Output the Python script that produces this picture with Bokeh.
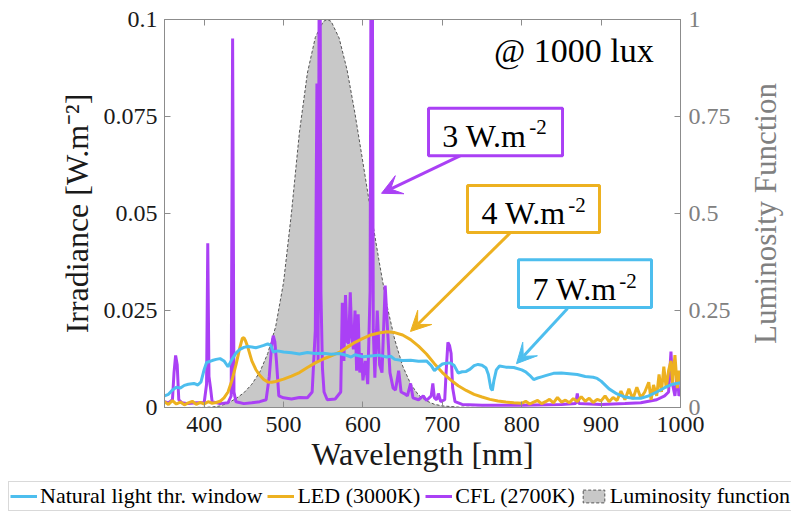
from math import pi
from bokeh.plotting import figure
from bokeh.layouts import column, row
from bokeh.models import (Range1d, LinearAxis, FixedTicker, NumeralTickFormatter, Legend,
                          LegendItem, Label, BoxAnnotation, Arrow, VeeHead)
from bokeh.embed import file_html
from bokeh.resources import INLINE

FONT = "Liberation Serif"

# ---------------- data ----------------
nat_nm = [350, 355, 360, 365, 370, 375, 380, 387, 392, 396, 400, 403, 410, 415, 420, 425, 430, 435,
          440, 445, 450, 455, 460, 465, 470, 475, 480, 484, 487, 492, 500, 510, 520, 530, 540, 550,
          560, 570, 580, 585, 590, 600, 610, 620, 630, 635, 640, 650, 660, 670, 680, 686, 690, 695,
          700, 705, 710, 715, 720, 725, 730, 735, 740, 745, 750, 755, 758, 761, 763, 765, 768, 772,
          780, 790, 800, 805, 810, 815, 820, 825, 830, 840, 850, 860, 870, 880, 890, 895, 900, 910,
          920, 930, 940, 950, 960, 970, 980, 990, 1000]
nat_val = [0.0030, 0.0034, 0.0045, 0.0052, 0.0050, 0.0057, 0.0060, 0.0062, 0.0058, 0.0066, 0.0098,
           0.0116, 0.0121, 0.0124, 0.0126, 0.0120, 0.0105, 0.0124, 0.0140, 0.0150, 0.0155, 0.0157,
           0.0156, 0.0154, 0.0157, 0.0160, 0.0164, 0.0160, 0.0143, 0.0146, 0.0143, 0.0141, 0.0138,
           0.0142, 0.0139, 0.0140, 0.0137, 0.0139, 0.0134, 0.0130, 0.0136, 0.0131, 0.0133, 0.0135,
           0.0130, 0.0132, 0.0124, 0.0121, 0.0122, 0.0119, 0.0120, 0.0108, 0.0095, 0.0104, 0.0112,
           0.0114, 0.0115, 0.0108, 0.0089, 0.0092, 0.0093, 0.0099, 0.0108, 0.0111, 0.0109, 0.0102,
           0.0085, 0.0050, 0.0044, 0.0070, 0.0097, 0.0107, 0.0104, 0.0103, 0.0097, 0.0092, 0.0083,
           0.0072, 0.0076, 0.0079, 0.0082, 0.0088, 0.0089, 0.0087, 0.0085, 0.0080, 0.0078, 0.0075,
           0.0068, 0.0048, 0.0035, 0.0027, 0.0024, 0.0024, 0.0030, 0.0040, 0.0051, 0.0060, 0.0064]

led_nm = [350, 355, 360, 365, 370, 375, 380, 385, 390, 395, 400, 405, 410, 415, 420, 425, 430, 435,
          440, 445, 448, 450, 452, 455, 460, 465, 470, 475, 480, 485, 490, 500, 510, 520, 530, 540,
          550, 560, 570, 580, 590, 600, 610, 620, 630, 640, 650, 660, 670, 680, 690, 700, 710, 720,
          730, 740, 750, 760, 770, 780, 790, 800, 805, 810, 815, 820, 825, 830, 835, 840, 845, 850,
          855, 860, 865, 870, 875, 880, 885, 890, 895, 900, 905, 910, 915, 920, 925, 930, 935, 940,
          945, 950, 955, 960, 963, 966, 970, 973, 976, 979, 982, 985, 988, 990, 993, 996, 998, 1000]
led_val = [0.0015, 0.0008, 0.0018, 0.0009, 0.0014, 0.0007, 0.0012, 0.0016, 0.0008, 0.0013, 0.0009,
           0.0015, 0.0011, 0.0013, 0.0016, 0.0025, 0.0040, 0.0070, 0.0110, 0.0155, 0.0178, 0.0180,
           0.0172, 0.0155, 0.0120, 0.0098, 0.0083, 0.0072, 0.0066, 0.0065, 0.0067, 0.0073, 0.0081,
           0.0090, 0.0103, 0.0115, 0.0125, 0.0133, 0.0142, 0.0155, 0.0168, 0.0178, 0.0187, 0.0192,
           0.0195, 0.0193, 0.0187, 0.0175, 0.0158, 0.0138, 0.0113, 0.0090, 0.0072, 0.0056, 0.0044,
           0.0034, 0.0027, 0.0021, 0.0017, 0.0014, 0.0012, 0.0011, 0.0016, 0.0009, 0.0014, 0.0018,
           0.0010, 0.0015, 0.0021, 0.0012, 0.0026, 0.0014, 0.0019, 0.0012, 0.0023, 0.0015, 0.0028,
           0.0016, 0.0024, 0.0013, 0.0021, 0.0017, 0.0030, 0.0015, 0.0026, 0.0018, 0.0042, 0.0020,
           0.0048, 0.0022, 0.0052, 0.0025, 0.0040, 0.0065, 0.0020, 0.0058, 0.0030, 0.0085, 0.0040,
           0.0105, 0.0050, 0.0095, 0.0120, 0.0060, 0.0135, 0.0050, 0.0095, 0.0060]

cfl_nm = [350, 355, 360, 362, 364, 366, 368, 372, 380, 390, 400, 403, 404.5, 406, 408, 410, 420,
          430, 434, 435.8, 437.5, 440, 450, 460, 470, 478, 482, 485, 487, 489, 491, 494, 500, 510,
          520, 530, 536, 540, 542, 543.5, 545.5, 547, 549, 551, 555, 565, 572, 574, 576, 578, 580,
          582, 584, 586, 588, 590, 592, 594, 596, 598, 600, 603, 606, 609, 611, 613, 615, 618, 621,
          624, 628, 631, 634, 638, 641, 645, 648, 652, 656, 660, 663, 670, 676, 680, 686, 688, 690,
          693, 695, 698, 703, 705, 707, 709, 711, 713, 716, 725, 750, 800, 850, 868, 870, 872, 900,
          930, 950, 970, 980, 985, 988, 990, 993, 996, 998, 1000]
cfl_val = [0.0015, 0.0012, 0.0020, 0.0090, 0.0134, 0.0110, 0.0020, 0.0012, 0.0010, 0.0012, 0.0013,
           0.0060, 0.0423, 0.0080, 0.0050, 0.0015, 0.0010, 0.0012, 0.0030, 0.0951, 0.0040, 0.0015,
           0.0010, 0.0012, 0.0015, 0.0020, 0.0080, 0.0160, 0.0185, 0.0170, 0.0120, 0.0030, 0.0025,
           0.0022, 0.0026, 0.0025, 0.0040, 0.0200, 0.0835, 0.0120, 0.1600, 0.0300, 0.0100, 0.0040,
           0.0020, 0.0022, 0.0040, 0.0270, 0.0120, 0.0290, 0.0170, 0.0165, 0.0297, 0.0180, 0.0150,
           0.0250, 0.0095, 0.0240, 0.0090, 0.0140, 0.0070, 0.0120, 0.0060, 0.0300, 0.1800, 0.0200,
           0.0077, 0.0250, 0.0110, 0.0090, 0.0314, 0.0200, 0.0090, 0.0050, 0.0045, 0.0095, 0.0040,
           0.0036, 0.0030, 0.0062, 0.0025, 0.0020, 0.0030, 0.0018, 0.0030, 0.0062, 0.0025, 0.0020,
           0.0036, 0.0015, 0.0020, 0.0100, 0.0168, 0.0160, 0.0140, 0.0050, 0.0015, 0.0008, 0.0006,
           0.0006, 0.0008, 0.0010, 0.0036, 0.0010, 0.0008, 0.0010, 0.0012, 0.0020, 0.0030, 0.0040,
           0.0144, 0.0060, 0.0030, 0.0088, 0.0030, 0.0040]

lum_nm = [360, 380, 400, 410, 420, 430, 440, 450, 460, 470, 480, 490, 500, 510, 520, 530, 540,
          550, 555, 560, 570, 580, 590, 600, 610, 620, 630, 640, 650, 660, 670, 680, 690, 700,
          720, 740, 780]
lum_val = [0.0, 0.00004, 0.0004, 0.0012, 0.004, 0.0116, 0.023, 0.038, 0.06, 0.091, 0.139, 0.208,
           0.323, 0.503, 0.71, 0.862, 0.954, 0.995, 1.0, 0.995, 0.952, 0.87, 0.757, 0.631, 0.503,
           0.381, 0.265, 0.175, 0.107, 0.061, 0.032, 0.017, 0.0082, 0.0041, 0.00105, 0.00025, 0.0]

x_ticks = [400, 500, 600, 700, 800, 900, 1000]
y_ticks = [0, 0.025, 0.05, 0.075, 0.1]
lum_ticks = [0, 0.25, 0.5, 0.75, 1]
legend_labels = ["Natural light thr. window", "LED (3000K)", "CFL (2700K)", "Luminosity function"]

BLUE = "#4dbeee"
ORANGE = "#edb120"
PURPLE = "#aa40f5"
GREY_AX = "#8c8c8c"
GREY_TXT = "#808080"
TXT = "#1a1a1a"
LUM_FILL = "#c8c8c8"
LUM_LINE = "#555555"

H_MAIN = 481
TOP, BOTTOM = 19, 74

# ---------------- main figure ----------------
p = figure(width=740, height=H_MAIN, x_range=Range1d(350, 1000), y_range=Range1d(0, 0.1),
           output_backend="svg", toolbar_location=None,
           min_border_left=164, min_border_right=60, min_border_top=TOP, min_border_bottom=BOTTOM)
p.extra_y_ranges = {"lum": Range1d(0, 1)}
p.grid.visible = False
p.outline_line_color = GREY_AX
p.outline_line_width = 1
p.frame_align = False

def style_axis(ax, label_color):
    ax.axis_line_color = GREY_AX
    ax.major_tick_line_color = GREY_AX
    ax.major_tick_in = 6
    ax.major_tick_out = 0
    ax.minor_tick_line_color = None
    ax.major_label_text_font = FONT
    ax.major_label_text_font_size = "24px"
    ax.major_label_text_color = label_color
    ax.axis_label_text_font = FONT
    ax.axis_label_text_font_size = "32px"
    ax.axis_label_text_font_style = "normal"
    ax.axis_label_text_color = label_color

xa = p.xaxis[0]
xa.ticker = FixedTicker(ticks=x_ticks)
style_axis(xa, TXT)
xa.axis_label = "Wavelength [nm]"
xa.major_label_standoff = 9
xa.axis_label_standoff = 1

ya = p.yaxis[0]
ya.ticker = FixedTicker(ticks=y_ticks)
ya.formatter = NumeralTickFormatter(format="0.[000]")
style_axis(ya, TXT)
ya.axis_label = "Irradiance [W.m\u207b\u00b2]"
ya.major_label_standoff = 7
ya.axis_label_standoff = 6

ra = LinearAxis(y_range_name="lum", ticker=FixedTicker(ticks=lum_ticks),
                formatter=NumeralTickFormatter(format="0.[00]"))
style_axis(ra, GREY_TXT)
ra.major_label_standoff = 8
p.add_layout(ra, "right")

ta = LinearAxis(ticker=FixedTicker(ticks=x_ticks))
style_axis(ta, TXT)
ta.major_label_overrides = {t: "" for t in x_ticks}
ta.major_label_standoff = 0
p.add_layout(ta, "above")

lum_x = lum_nm + [lum_nm[-1], lum_nm[0]]
lum_y = lum_val + [0.0, 0.0]
r_lum = p.patch(lum_x, lum_y, y_range_name="lum", fill_color=LUM_FILL, line_color=LUM_LINE,
                line_width=1, line_dash="3 2")
r_nat = p.line(nat_nm, nat_val, line_color=BLUE, line_width=3)
r_led = p.line(led_nm, led_val, line_color=ORANGE, line_width=3)
r_cfl = p.line(cfl_nm, cfl_val, line_color=PURPLE, line_width=3)
p.renderers = [r_lum, r_cfl, r_led, r_nat]

# Label text lands about 0.36 em below the requested alphabetic baseline,
# so the y positions are raised accordingly.
notes = [
    (PURPLE, (682.6, 851.4, 0.0649, 0.0771), "3 W.m", (700.0, 0.0701), (809.5, 0.0722),
     (722.9, 0.0649), (623.4, 0.0552)),
    (ORANGE, (731.7, 898.0, 0.0451, 0.0572), "4 W.m", (749.3, 0.0502), (858.7, 0.0523),
     (785.9, 0.0451), (659.9, 0.0196)),
    (BLUE, (795.9, 963.5, 0.0258, 0.0381), "7 W.m", (813.6, 0.0306), (922.9, 0.0327),
     (857.7, 0.0255), (793.4, 0.0113)),
]
for col, (l, r, b, t), txt, (tx, ty), (sx, sy), (ax0, ay0), (ax1, ay1) in notes:
    p.add_layout(Arrow(x_start=ax0, y_start=ay0, x_end=ax1, y_end=ay1, line_color=col,
                       line_width=3,
                       end=VeeHead(size=20, fill_color=col, line_color=col, line_width=1)))
    p.add_layout(BoxAnnotation(left=l, right=r, bottom=b, top=t, fill_color="white",
                               fill_alpha=1.0, line_color=col, line_width=3, line_alpha=1.0))
    p.add_layout(Label(x=tx, y=ty, text=txt, text_font=FONT, text_font_size="32px",
                       text_color="black", text_baseline="alphabetic"))
    p.add_layout(Label(x=sx, y=sy, text="-2", text_font=FONT, text_font_size="21px",
                       text_color="black", text_baseline="alphabetic"))

p.add_layout(Label(x=765.0, y=0.0920, text="@ 1000 lux", text_font=FONT, text_font_size="34px",
                   text_color="black", text_baseline="alphabetic"))

# ---------------- strip holding the right-hand axis title ----------------
# a left axis reads bottom-to-top, as the reference's right title does
rt = figure(width=51, height=H_MAIN, x_range=Range1d(0, 1), y_range=Range1d(0, 1),
            output_backend="svg", toolbar_location=None, x_axis_location=None,
            min_border_left=42, min_border_right=0, min_border_top=TOP, min_border_bottom=BOTTOM)
rt.frame_align = False
rt.grid.visible = False
rt.outline_line_color = None
rya = rt.yaxis[0]
rya.ticker = FixedTicker(ticks=[])
rya.axis_line_color = None
rya.major_tick_line_color = None
rya.minor_tick_line_color = None
rya.axis_label = "Luminosity Function"
rya.axis_label_text_font = FONT
rya.axis_label_text_font_size = "31px"
rya.axis_label_text_font_style = "normal"
rya.axis_label_text_color = GREY_TXT
rya.axis_label_standoff = 0
rya.major_label_standoff = 0

# ---------------- legend strip ----------------
# the strip's ranges keep the series themselves out of view; only the legend shows
q = figure(width=791, height=32, x_range=Range1d(0, 1), y_range=Range1d(0, 1),
           output_backend="svg", toolbar_location=None, x_axis_location=None,
           y_axis_location=None, min_border_left=0, min_border_right=0, min_border_top=0,
           min_border_bottom=0)
q.frame_align = False
q.grid.visible = False
q.outline_line_color = None
s_nat = q.line(nat_nm, nat_val, line_color=BLUE, line_width=3)
s_led = q.line(led_nm, led_val, line_color=ORANGE, line_width=3)
s_cfl = q.line(cfl_nm, cfl_val, line_color=PURPLE, line_width=3)
s_lum = q.patch(lum_x, lum_y, fill_color=LUM_FILL, line_color=LUM_LINE, line_width=1,
                line_dash="3 2")
legend = Legend(items=[LegendItem(label=lab, renderers=[r])
                       for lab, r in zip(legend_labels, [s_nat, s_led, s_cfl, s_lum])],
                orientation="horizontal", location=(8, 2),
                label_text_font=FONT, label_text_font_size="22px", label_text_color="black",
                glyph_width=27, glyph_height=16, label_standoff=3, spacing=5, padding=1,
                margin=0, label_height=20,
                border_line_color="#b4b4b4", border_line_width=1.5,
                background_fill_color="white", background_fill_alpha=1.0)
q.add_layout(legend, "center")

open("out.html", "w").write(file_html(column(row(p, rt), q), INLINE))
